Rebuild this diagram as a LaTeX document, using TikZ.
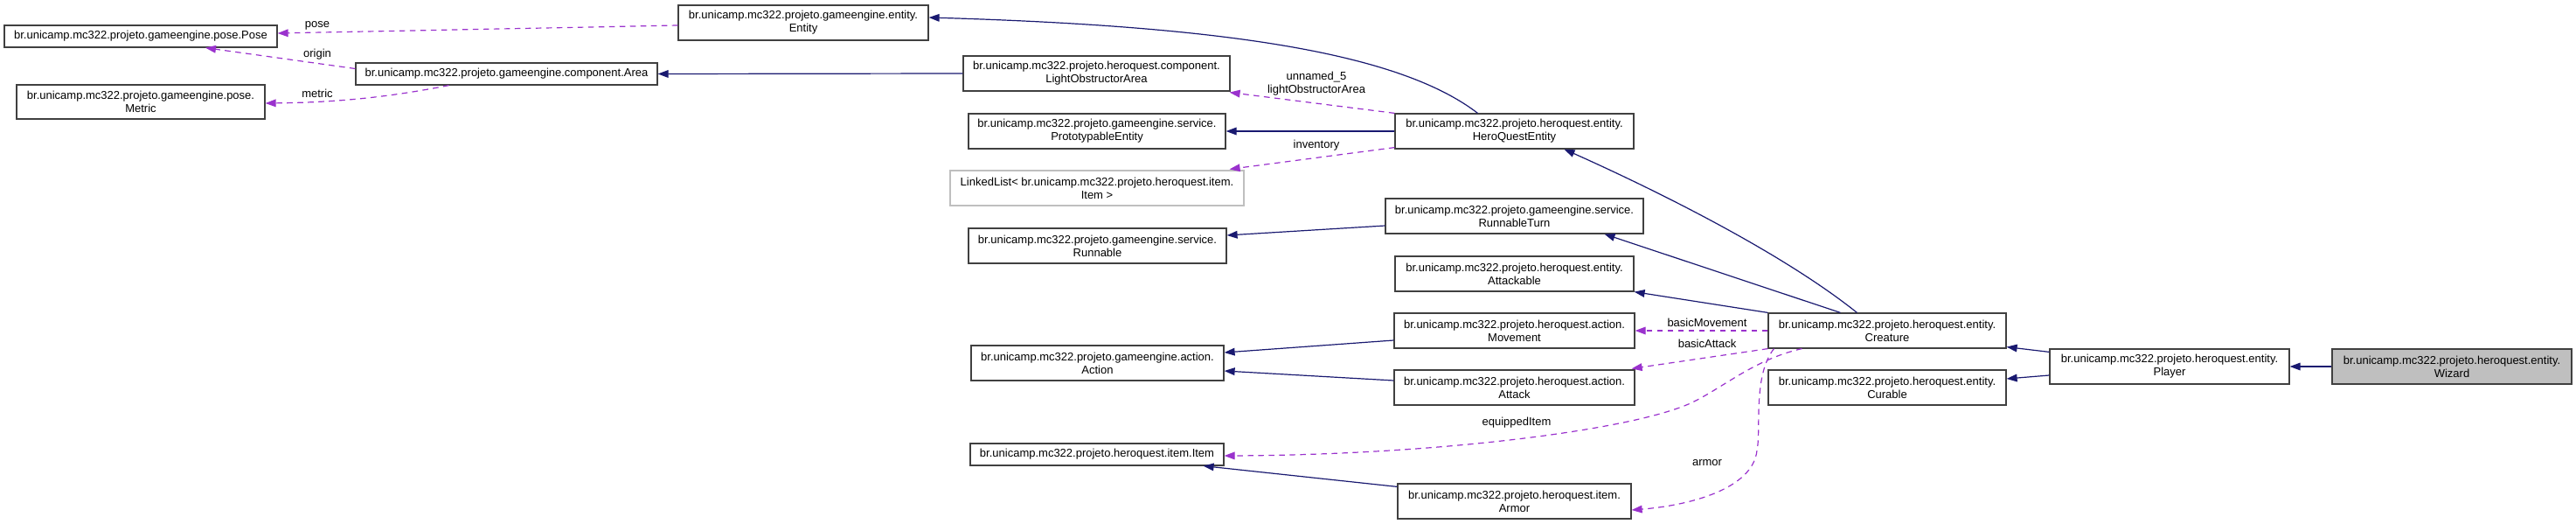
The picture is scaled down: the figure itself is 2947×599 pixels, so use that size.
\documentclass[tikz,border=0pt]{standalone}
\usepackage{fontspec}
\setmainfont{Liberation Sans}
\usetikzlibrary{arrows.meta,calc}
\definecolor{edgeblue}{HTML}{191970}
\definecolor{edgepurple}{HTML}{9A32CD}
\definecolor{boxgray}{HTML}{BFBFBF}
\definecolor{boxline}{HTML}{404040}
\newcommand{\dfont}{\fontsize{9.75}{11.25}\selectfont}
\begin{document}
\begin{tikzpicture}[x=0.75pt,y=-0.75pt,
  cls/.style={draw=boxline, line width=0.9pt, fill=white, inner sep=0pt, align=center, font=\dfont},
  sz/.style 2 args={minimum width=#1*0.75pt, minimum height=#2*0.75pt},
  extcls/.style={draw=boxgray},
  curcls/.style={fill=boxgray},
  inh/.style={draw=edgeblue, line width=0.9pt, -{Triangle[length=9pt,width=6.5pt]}},
  use/.style={draw=edgepurple, line width=0.9pt, dash pattern=on 5pt off 4pt, -{Triangle[length=9pt,width=6.5pt]}},
  lbl/.style={font=\dfont, inner sep=0pt, align=center}
]
\useasboundingbox (0,0) rectangle (2947,599);

% nodes
\node[cls, sz={312}{25}] (pose) at (161,41.5) {br.unicamp.mc322.projeto.gameengine.pose.Pose};
\node[cls, sz={284}{39}] (metric) at (161,116.5) {br.unicamp.mc322.projeto.gameengine.pose.\\Metric};
\node[cls, sz={345}{25}] (area) at (579.5,84.5) {br.unicamp.mc322.projeto.gameengine.component.Area};
\node[cls, sz={286}{40}] (entity) at (919,26) {br.unicamp.mc322.projeto.gameengine.entity.\\Entity};
\node[cls, sz={305}{40}] (loa) at (1254.5,84) {br.unicamp.mc322.projeto.heroquest.component.\\LightObstructorArea};
\node[cls, sz={294}{40}] (proto) at (1255,150) {br.unicamp.mc322.projeto.gameengine.service.\\PrototypableEntity};
\node[cls, extcls, sz={336}{40}] (llist) at (1255,215) {LinkedList< br.unicamp.mc322.projeto.heroquest.item.\\Item >};
\node[cls, sz={295}{40}] (runnable) at (1255.5,281) {br.unicamp.mc322.projeto.gameengine.service.\\Runnable};
\node[cls, sz={289}{40}] (action) at (1255.5,415) {br.unicamp.mc322.projeto.gameengine.action.\\Action};
\node[cls, sz={290}{25}] (item) at (1255,519.5) {br.unicamp.mc322.projeto.heroquest.item.Item};
\node[cls, sz={273}{40}] (hqe) at (1732.5,150) {br.unicamp.mc322.projeto.heroquest.entity.\\HeroQuestEntity};
\node[cls, sz={295}{40}] (rturn) at (1732.5,247) {br.unicamp.mc322.projeto.gameengine.service.\\RunnableTurn};
\node[cls, sz={273}{40}] (attackable) at (1732.5,313) {br.unicamp.mc322.projeto.heroquest.entity.\\Attackable};
\node[cls, sz={275}{40}] (movement) at (1732.5,378) {br.unicamp.mc322.projeto.heroquest.action.\\Movement};
\node[cls, sz={275}{40}] (attack) at (1732.5,443) {br.unicamp.mc322.projeto.heroquest.action.\\Attack};
\node[cls, sz={267}{40}] (armor) at (1732.5,573) {br.unicamp.mc322.projeto.heroquest.item.\\Armor};
\node[cls, sz={272}{40}] (creature) at (2159,378) {br.unicamp.mc322.projeto.heroquest.entity.\\Creature};
\node[cls, sz={272}{40}] (curable) at (2159,443) {br.unicamp.mc322.projeto.heroquest.entity.\\Curable};
\node[cls, sz={274}{40}] (player) at (2482,419) {br.unicamp.mc322.projeto.heroquest.entity.\\Player};
\node[cls, curcls, sz={274}{40}] (wizard) at (2805,419) {br.unicamp.mc322.projeto.heroquest.entity.\\Wizard};

% inheritance edges
\draw[inh] (wizard.west) -- (player.east);
\draw[inh] ($(player.north west)+(0,4)$) -- ($(creature.south east)+(0,-2)$);
\draw[inh] ($(player.west)+(0,10)$) -- ($(curable.east)+(0,-10)$);
\draw[inh] (creature.north west) -- (attackable.south east);
\draw[inh] ($(creature.north west)+(83,0)$) -- ($(rturn.south)+(103,0)$);
\draw[inh] ($(creature.north west)+(102,0)$) .. controls (2040,290) and (1900,220) .. ($(hqe.south)+(57,0)$);
\draw[inh] ($(rturn.west)+(0,11)$) -- ($(runnable.east)+(0,-12)$);
\draw[inh] (hqe.west) -- (proto.east);
\draw[inh] ($(hqe.north)+(-42,0)$) .. controls (1600,60) and (1400,30) .. ($(entity.east)+(0,-6)$);
\draw[inh] (loa.west) -- (area.east);
\draw[inh] ($(movement.west)+(0,11)$) -- ($(action.east)+(0,-12)$);
\draw[inh] ($(attack.west)+(0,-8)$) -- ($(action.east)+(0,9)$);
\draw[inh] ($(armor.north west)+(0,4)$) -- ($(item.south east)+(-24,0)$);

% usage edges
\draw[use] ($(entity.west)+(0,3)$) -- ($(pose.east)+(0,-3.5)$);
\draw[use] ($(area.west)+(0,-6)$) -- ($(pose.south)+(74,0)$);
\draw[use] ($(area.south)+(-66,0)$) .. controls (460,108) and (400,117) .. ($(metric.east)+(0,1.5)$);
\draw[use] (hqe.north west) -- ($(loa.south east)+(-1,1)$);
\draw[use] ($(hqe.south west)+(0,-2)$) -- ($(llist.north east)+(-17,-1)$);
\draw[use] (creature.west) -- (movement.east);
\draw[use] (creature.south west) -- ($(attack.north east)+(-4,-1)$);
\draw[use] ($(creature.south west)+(39,0)$) .. controls (2010,410) and (1975,440) .. (1940,458)
  .. controls (1880,490) and (1650,520) .. ($(item.east)+(0,1.5)$);
\draw[use] ($(creature.south west)+(7,0)$) .. controls (2005,430) and (2015,490) .. (2010,515)
  .. controls (2005,560) and (1930,578) .. ($(armor.east)+(0,10)$);

% labels
\node[lbl] (lpose) at (363,29) {pose};
\node[lbl] (lorigin) at (363,62) {origin};
\node[lbl] (lmetric) at (363,107) {metric};
\node[lbl] (lloa) at (1506,96) {unnamed\_5\\lightObstructorArea};
\node[lbl] (linv) at (1506,166) {inventory};
\node[lbl] (lmove) at (1953,369) {basicMovement};
\node[lbl] (lattack) at (1953,393) {basicAttack};
\node[lbl] (lequip) at (1735,483) {equippedItem};
\node[lbl] (larmor) at (1953,529) {armor};
\end{tikzpicture}
\end{document}
